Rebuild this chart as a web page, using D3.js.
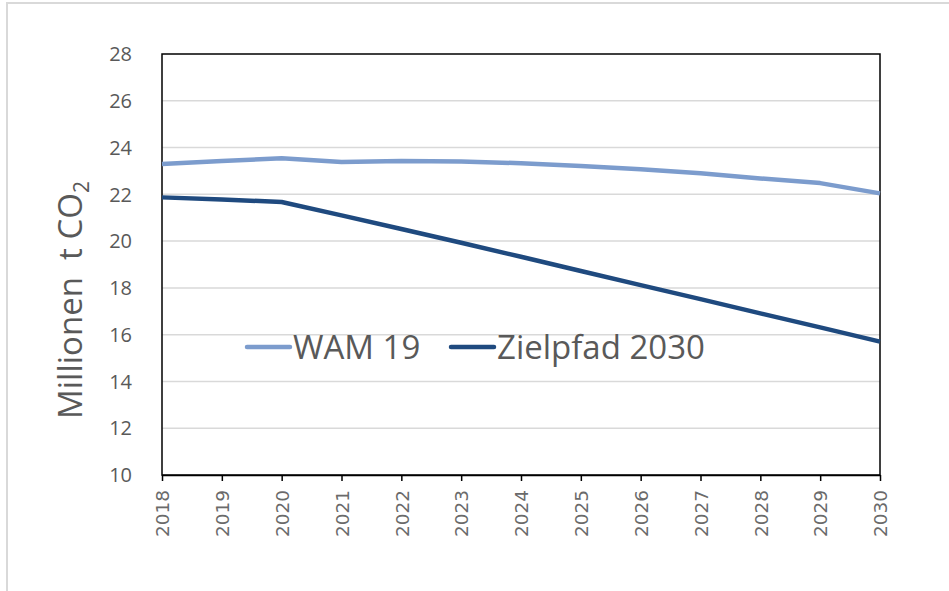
<!DOCTYPE html>
<html><head><meta charset="utf-8">
<script src="https://cdn.jsdelivr.net/npm/d3@7"></script>
<style>html,body{margin:0;padding:0;background:#fff;}svg{display:block;}</style>
</head><body>
<svg id="c" width="949" height="591"></svg>
<script>
const years = [2018,2019,2020,2021,2022,2023,2024,2025,2026,2027,2028,2029,2030];
const wam19 = [23.30,23.42,23.54,23.38,23.42,23.40,23.33,23.21,23.07,22.90,22.68,22.48,22.04];
const zielpfad = [21.87,21.78,21.67,21.10,20.52,19.93,19.33,18.72,18.12,17.52,16.91,16.31,15.70];
const yTicks = [10,12,14,16,18,20,22,24,26,28];
const seriesNames = ["WAM 19","Zielpfad 2030"];
const colors = ["#7c9ccd","#1f4a7f"];

const svg = d3.select("#c");
const m = {left:162, right:880, top:54, bottom:475};
const x = d3.scaleLinear().domain([2018,2030]).range([m.left,m.right]);
const y = d3.scaleLinear().domain([10,28]).range([m.bottom,m.top]);

// outer frame
svg.append("line").attr("x1",6).attr("x2",949).attr("y1",3).attr("y2",3).attr("stroke","#d9d9d9").attr("stroke-width",2);
svg.append("line").attr("x1",7).attr("x2",7).attr("y1",3).attr("y2",591).attr("stroke","#d9d9d9").attr("stroke-width",2);

// gridlines
svg.append("g").selectAll("line").data(yTicks.slice(1,-1)).join("line")
  .attr("x1",m.left).attr("x2",m.right).attr("y1",d=>y(d)).attr("y2",d=>y(d))
  .attr("stroke","#d9d9d9").attr("stroke-width",1.5);

// y tick labels
svg.append("g").selectAll("text").data(yTicks).join("text")
  .attr("x",132).attr("y",d=>y(d)).attr("dy","0.36em").attr("text-anchor","end")
  .attr("font-family","Open Sans, sans-serif").attr("font-size",20).attr("fill","#595959")
  .text(d=>d);

// x axis
const xa = svg.append("g").attr("transform",`translate(0,${m.bottom})`)
  .call(d3.axisBottom(x).tickValues(years).tickFormat(d3.format("d")).tickSize(6).tickSizeOuter(0));
xa.select(".domain").attr("stroke","#000").attr("stroke-width",1.5);
xa.selectAll(".tick line").attr("stroke","#000").attr("stroke-width",1.5);
xa.selectAll(".tick text")
  .attr("font-family","DejaVu Sans, sans-serif").attr("font-size",18.5).attr("fill","#6a6a6a")
  .attr("transform","rotate(-90)").attr("text-anchor","end")
  .attr("x",-15).attr("y",0).attr("dy","0.36em");

// plot frame
svg.append("rect").attr("x",m.left).attr("y",m.top).attr("width",m.right-m.left).attr("height",m.bottom-m.top)
  .attr("fill","none").attr("stroke","#000").attr("stroke-width",1.5);

// lines
const line = d3.line().x((d,i)=>x(years[i])).y(d=>y(d));
[wam19,zielpfad].forEach((s,k)=>{
  svg.append("path").datum(s).attr("d",line).attr("fill","none")
    .attr("stroke",colors[k]).attr("stroke-width",4.5).attr("stroke-linejoin","round");
});

// legend
const legX = [247,451];
const legY = 347;
seriesNames.forEach((n,k)=>{
  svg.append("line").attr("x1",legX[k]).attr("x2",legX[k]+43).attr("y1",legY).attr("y2",legY)
    .attr("stroke",colors[k]).attr("stroke-width",4.5).attr("stroke-linecap","round");
  svg.append("text").attr("x",legX[k]+46).attr("y",legY).attr("dy","0.36em")
    .attr("font-family","Open Sans, sans-serif").attr("font-size",33).attr("fill","#595959").text(n);
});

// y title
const yt = svg.append("text").attr("transform",`translate(82,300) rotate(-90)`).attr("text-anchor","middle")
  .attr("font-family","Open Sans, sans-serif").attr("font-size",33).attr("fill","#595959")
  .style("white-space","pre");
yt.append("tspan").text("Millionen  t CO");
yt.append("tspan").attr("font-size",21).attr("dy",7).text("2");
</script>
</body></html>
